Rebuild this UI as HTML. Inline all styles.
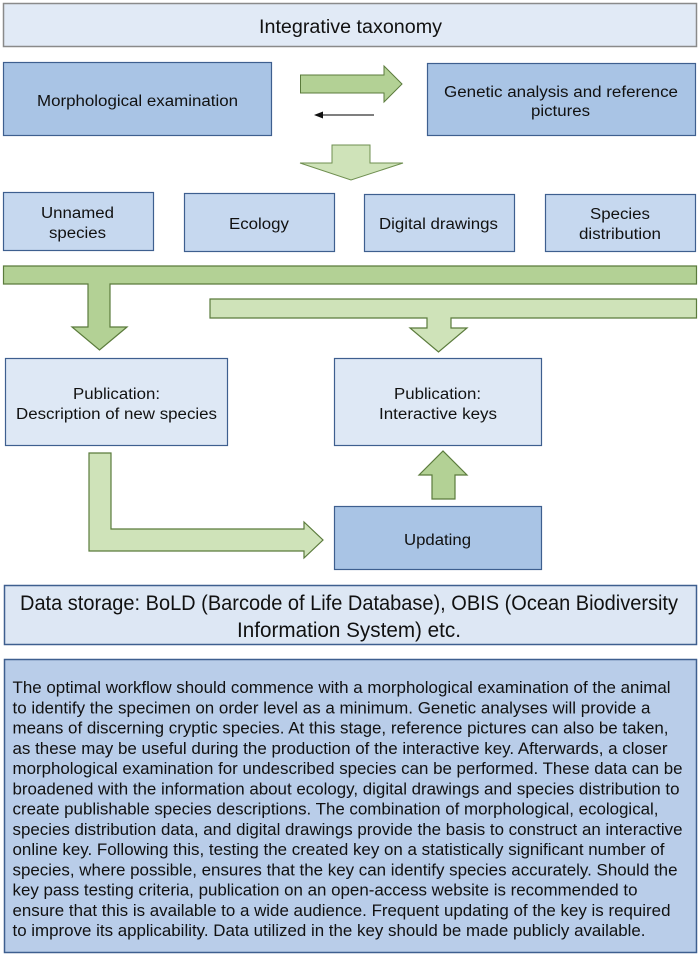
<!DOCTYPE html>
<html><head><meta charset="utf-8"><style>html,body{margin:0;padding:0;background:#fff}svg{display:block}</style></head><body>
<svg width="700" height="957" viewBox="0 0 700 957" xmlns="http://www.w3.org/2000/svg" font-family="Liberation Sans, Arial, sans-serif" fill="#111">
<!-- title -->
<rect x="3.5" y="3.5" width="693" height="43" fill="#e1eaf6" stroke="#8a8a8a" stroke-width="1.5"/>
<text x="259" y="33" font-size="19" textLength="183" lengthAdjust="spacingAndGlyphs">Integrative taxonomy</text>
<!-- top boxes -->
<rect x="3.5" y="62.5" width="268" height="73" fill="#a9c4e5" stroke="#3e5f8f" stroke-width="1.2"/>
<text x="37" y="106" font-size="15.5" textLength="201" lengthAdjust="spacingAndGlyphs">Morphological examination</text>
<rect x="427.5" y="63.5" width="268" height="72" fill="#a9c4e5" stroke="#3e5f8f" stroke-width="1.2"/>
<text x="444" y="97" font-size="15.5" textLength="234" lengthAdjust="spacingAndGlyphs">Genetic analysis and reference</text>
<text x="531" y="116" font-size="15.5" textLength="59" lengthAdjust="spacingAndGlyphs">pictures</text>
<!-- right arrow -->
<polygon points="300.5,75 384,75 384,66 402,84 384,102 384,93 300.5,93" fill="#b3d195" stroke="#5b7b3c" stroke-width="1"/>
<!-- small left arrow -->
<line x1="322" y1="115" x2="374" y2="115" stroke="#333" stroke-width="1.2"/>
<polygon points="314,115 323,111.5 323,118.5" fill="#111"/>
<!-- down arrow -->
<polygon points="332,145 370,145 370,163 403,163 351,180 300,163 332,163" fill="#cfe3b9" stroke="#6f8f50" stroke-width="1"/>
<!-- row boxes -->
<g fill="#c6d8ef" stroke="#3e5f8f" stroke-width="1.2">
<rect x="3.5" y="192.5" width="150" height="58"/>
<rect x="184.5" y="193.5" width="150" height="58"/>
<rect x="364.5" y="194.5" width="150" height="57"/>
<rect x="545.5" y="194.5" width="150" height="57"/>
</g>
<g font-size="15.5">
<text x="41" y="218" textLength="73" lengthAdjust="spacingAndGlyphs">Unnamed</text>
<text x="49" y="238" textLength="57" lengthAdjust="spacingAndGlyphs">species</text>
<text x="229" y="229" textLength="60" lengthAdjust="spacingAndGlyphs">Ecology</text>
<text x="379" y="229" textLength="119" lengthAdjust="spacingAndGlyphs">Digital drawings</text>
<text x="590" y="219" textLength="60" lengthAdjust="spacingAndGlyphs">Species</text>
<text x="579" y="239" textLength="82" lengthAdjust="spacingAndGlyphs">distribution</text>
</g>
<!-- big bar + left down arrow -->
<polygon points="3.5,266 696.5,266 696.5,284 110,284 110,327 127,327 99.5,350 72,327 88,327 88,284 3.5,284" fill="#b3d195" stroke="#5b7b3c" stroke-width="1.2"/>
<!-- second bar + right down arrow -->
<polygon points="210,299 696.5,299 696.5,318 451,318 451,328 467,328 438.5,352 410,328 427,328 427,318 210,318" fill="#cfe3b9" stroke="#5b7b3c" stroke-width="1.2"/>
<!-- publication boxes -->
<rect x="5.5" y="358.5" width="222" height="87" fill="#dee8f5" stroke="#3e5f8f" stroke-width="1.2"/>
<text x="73" y="399" font-size="15.5" textLength="87" lengthAdjust="spacingAndGlyphs">Publication:</text>
<text x="16" y="419" font-size="15.5" textLength="201" lengthAdjust="spacingAndGlyphs">Description of new species</text>
<rect x="334.5" y="358.5" width="207" height="87" fill="#dee8f5" stroke="#3e5f8f" stroke-width="1.2"/>
<text x="394" y="399" font-size="15.5" textLength="87" lengthAdjust="spacingAndGlyphs">Publication:</text>
<text x="379" y="419" font-size="15.5" textLength="118" lengthAdjust="spacingAndGlyphs">Interactive keys</text>
<!-- L arrow -->
<polygon points="89,453 111,453 111,529 304,529 304,522 323,540 304,558 304,551 89,551" fill="#cfe3b9" stroke="#5b7b3c" stroke-width="1.2"/>
<!-- up arrow -->
<polygon points="432,499 455,499 455,475 467,475 443,451 419,475 432,475" fill="#b3d195" stroke="#5b7b3c" stroke-width="1.2"/>
<!-- updating -->
<rect x="334.5" y="506.5" width="207" height="63" fill="#a9c4e5" stroke="#3e5f8f" stroke-width="1.2"/>
<text x="404" y="545" font-size="15.5" textLength="67" lengthAdjust="spacingAndGlyphs">Updating</text>
<!-- data storage -->
<rect x="4.5" y="585.5" width="692" height="59" fill="#dde7f4" stroke="#3e5f8f" stroke-width="1.5"/>
<text x="20" y="610" font-size="21" textLength="658" lengthAdjust="spacingAndGlyphs">Data storage: BoLD (Barcode of Life Database), OBIS (Ocean Biodiversity</text>
<text x="237" y="637" font-size="21" textLength="224" lengthAdjust="spacingAndGlyphs">Information System) etc.</text>
<!-- description -->
<rect x="4.5" y="659.5" width="692" height="293" fill="#b9cde9" stroke="#3e5f8f" stroke-width="1.5"/>
<g font-size="16.5" lengthAdjust="spacingAndGlyphs">
<text x="12.5" y="693" textLength="658" lengthAdjust="spacingAndGlyphs">The optimal workflow should commence with a morphological examination of the animal</text>
<text x="12.5" y="713.25" textLength="638" lengthAdjust="spacingAndGlyphs">to identify the specimen on order level as a minimum. Genetic analyses will provide a</text>
<text x="12.5" y="733.5" textLength="656" lengthAdjust="spacingAndGlyphs">means of discerning cryptic species. At this stage, reference pictures can also be taken,</text>
<text x="12.5" y="753.75" textLength="655" lengthAdjust="spacingAndGlyphs">as these may be useful during the production of the interactive key. Afterwards, a closer</text>
<text x="12.5" y="774" textLength="670" lengthAdjust="spacingAndGlyphs">morphological examination for undescribed species can be performed. These data can be</text>
<text x="12.5" y="794.25" textLength="667" lengthAdjust="spacingAndGlyphs">broadened with the information about ecology, digital drawings and species distribution to</text>
<text x="12.5" y="814.5" textLength="646" lengthAdjust="spacingAndGlyphs">create publishable species descriptions. The combination of morphological, ecological,</text>
<text x="12.5" y="834.75" textLength="670" lengthAdjust="spacingAndGlyphs">species distribution data, and digital drawings provide the basis to construct an interactive</text>
<text x="12.5" y="855" textLength="652" lengthAdjust="spacingAndGlyphs">online key. Following this, testing the created key on a statistically significant number of</text>
<text x="12.5" y="875.25" textLength="665" lengthAdjust="spacingAndGlyphs">species, where possible, ensures that the key can identify species accurately. Should the</text>
<text x="12.5" y="895.5" textLength="625" lengthAdjust="spacingAndGlyphs">key pass testing criteria, publication on an open-access website is recommended to</text>
<text x="12.5" y="915.75" textLength="658" lengthAdjust="spacingAndGlyphs">ensure that this is available to a wide audience. Frequent updating of the key is required</text>
<text x="12.5" y="936" textLength="633" lengthAdjust="spacingAndGlyphs">to improve its applicability. Data utilized in the key should be made publicly available.</text>
</g>
</svg>
</body></html>
